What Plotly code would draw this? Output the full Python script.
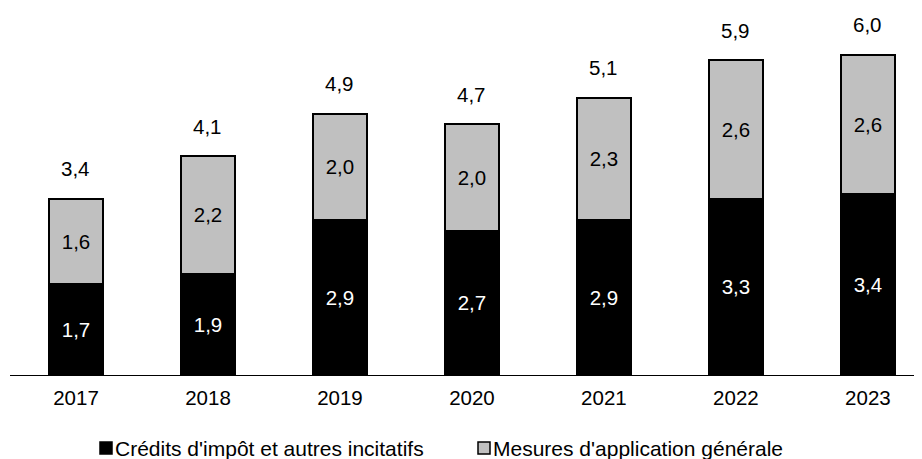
import plotly.graph_objects as go

years = ["2017", "2018", "2019", "2020", "2021", "2022", "2023"]
credits = [1.7, 1.9, 2.9, 2.7, 2.9, 3.3, 3.4]
mesures = [1.6, 2.2, 2.0, 2.0, 2.3, 2.6, 2.6]
totals = [3.4, 4.1, 4.9, 4.7, 5.1, 5.9, 6.0]
series_names = ["Crédits d'impôt et autres incitatifs", "Mesures d'application générale"]

FONT = "Liberation Sans, Arial, sans-serif"
FS = 20.5
FS_LEG = 21

# the html page has an 8px body margin: figure coordinates = page - 8
W, H = 914, 451
L, B = 2, 84
PW, PH = W - L, H - B

def fmt(v):
    return f"{v:.1f}".replace(".", ",")

fig = go.Figure()
fig.add_trace(go.Bar(
    x=years, y=credits, name=series_names[0],
    marker=dict(color="#000000", line=dict(color="#000000", width=1.5)),
    text=[fmt(v) for v in credits],
    textposition="inside", insidetextanchor="middle",
    textfont=dict(color="white", size=FS, family=FONT),
    width=0.415, showlegend=False,
))
fig.add_trace(go.Bar(
    x=years, y=mesures, name=series_names[1],
    marker=dict(color="#C0C0C0", line=dict(color="#000000", width=2)),
    text=[fmt(v) for v in mesures],
    textposition="inside", insidetextanchor="middle",
    textfont=dict(color="black", size=FS, family=FONT),
    width=0.415, showlegend=False,
))

for i, (c, m, t) in enumerate(zip(credits, mesures, totals)):
    fig.add_annotation(
        x=i, y=c + m, xref="x", yref="y", text=fmt(t),
        showarrow=False, yanchor="middle", yshift=30,
        font=dict(size=FS, color="black", family=FONT),
    )

def px(xf):
    return (xf - L) / PW
def py(yf):
    return (PH - yf) / PH

# custom legend (square + label), positions in figure pixels
legend_items = [
    (92, "#000000", series_names[0]),
    (470, "#C0C0C0", series_names[1]),
]
for x0, col, name in legend_items:
    fig.add_shape(type="rect", xref="paper", yref="paper",
                  x0=px(x0), x1=px(x0 + 12), y0=py(434), y1=py(446),
                  fillcolor=col, line=dict(color="black", width=1.5))
    fig.add_annotation(xref="paper", yref="paper", x=px(x0 + 13), y=py(440),
                       xanchor="left", yanchor="middle", showarrow=False,
                       text=name, font=dict(size=FS_LEG, color="black", family=FONT))

fig.update_layout(
    barmode="stack",
    width=W, height=H,
    margin=dict(l=L, r=0, t=0, b=B),
    paper_bgcolor="white", plot_bgcolor="white",
    font=dict(family=FONT, size=FS, color="black"),
    uniformtext=dict(mode="show", minsize=10),
    showlegend=False,
)
fig.update_xaxes(type="category", range=[-0.5, 6.41], showline=True, linecolor="black",
                 linewidth=1, ticks="", showgrid=False, tickfont=dict(size=FS),
                 ticklabelstandoff=4, fixedrange=True)
fig.update_yaxes(range=[0, 6.88], visible=False, showgrid=False, zeroline=False)

fig.write_html("out.html")
